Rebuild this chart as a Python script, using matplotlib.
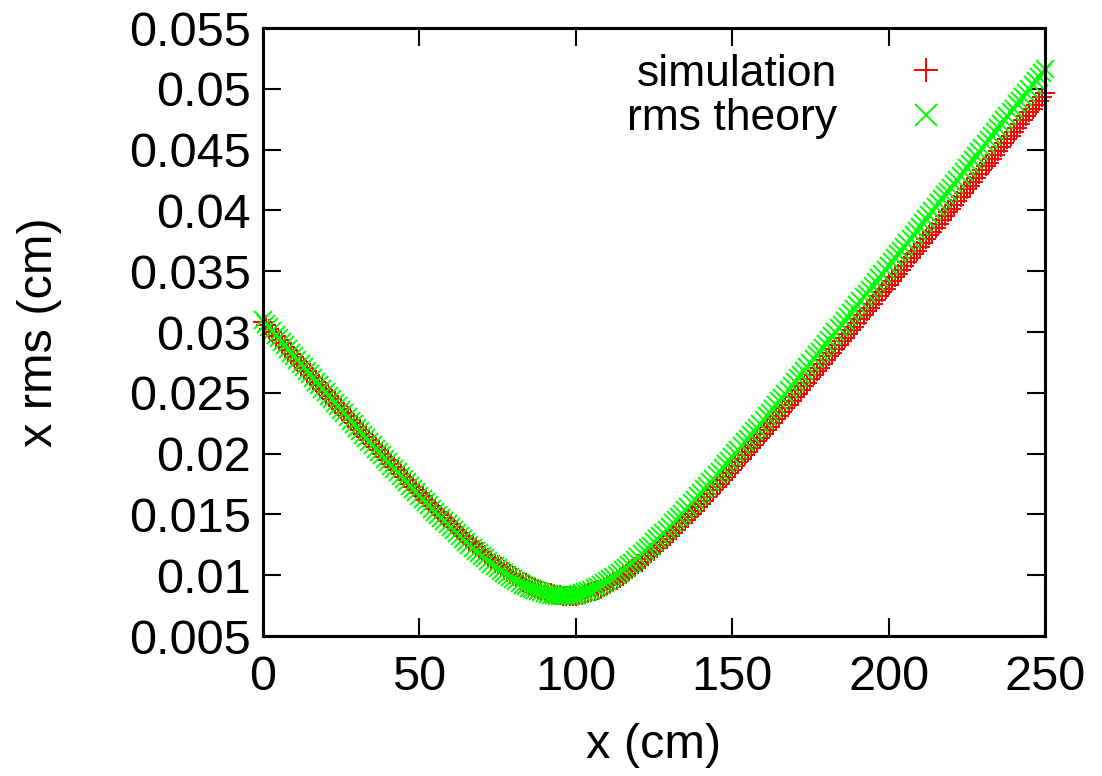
import numpy as np
import matplotlib
matplotlib.use("Agg")
import matplotlib.pyplot as plt

# DATA: beam size along the line, one sample per cm
x_cm = np.arange(0, 251)

simulation = [
    0.03083, 0.03054, 0.03025, 0.02996, 0.02967, 0.02938, 0.02909, 0.02880, 0.02850, 0.02822,
    0.02793, 0.02764, 0.02735, 0.02706, 0.02677, 0.02648, 0.02620, 0.02591, 0.02562, 0.02534,
    0.02505, 0.02476, 0.02448, 0.02419, 0.02391, 0.02363, 0.02334, 0.02306, 0.02278, 0.02249,
    0.02221, 0.02193, 0.02165, 0.02137, 0.02110, 0.02082, 0.02054, 0.02026, 0.01999, 0.01971,
    0.01944, 0.01916, 0.01889, 0.01862, 0.01835, 0.01808, 0.01781, 0.01754, 0.01727, 0.01701,
    0.01675, 0.01648, 0.01622, 0.01596, 0.01571, 0.01545, 0.01519, 0.01494, 0.01469, 0.01444,
    0.01419, 0.01395, 0.01371, 0.01347, 0.01323, 0.01300, 0.01277, 0.01254, 0.01231, 0.01209,
    0.01188, 0.01166, 0.01144, 0.01124, 0.01104, 0.01084, 0.01065, 0.01046, 0.01028, 0.01010,
    0.00993, 0.00977, 0.00961, 0.00946, 0.00932, 0.00919, 0.00906, 0.00894, 0.00884, 0.00874,
    0.00865, 0.00857, 0.00850, 0.00844, 0.00839, 0.00835, 0.00832, 0.00831, 0.00830, 0.00831,
    0.00833, 0.00836, 0.00840, 0.00846, 0.00852, 0.00860, 0.00869, 0.00879, 0.00890, 0.00902,
    0.00916, 0.00930, 0.00945, 0.00960, 0.00977, 0.00994, 0.01012, 0.01031, 0.01051, 0.01071,
    0.01091, 0.01112, 0.01134, 0.01156, 0.01179, 0.01202, 0.01226, 0.01250, 0.01274, 0.01298,
    0.01323, 0.01349, 0.01374, 0.01400, 0.01426, 0.01452, 0.01479, 0.01505, 0.01532, 0.01559,
    0.01587, 0.01614, 0.01642, 0.01670, 0.01698, 0.01726, 0.01754, 0.01783, 0.01811, 0.01840,
    0.01869, 0.01898, 0.01927, 0.01956, 0.01985, 0.02014, 0.02044, 0.02073, 0.02103, 0.02132,
    0.02162, 0.02192, 0.02222, 0.02251, 0.02281, 0.02311, 0.02342, 0.02372, 0.02402, 0.02432,
    0.02463, 0.02493, 0.02523, 0.02554, 0.02584, 0.02615, 0.02645, 0.02676, 0.02706, 0.02737,
    0.02768, 0.02799, 0.02829, 0.02860, 0.02891, 0.02922, 0.02953, 0.02984, 0.03015, 0.03045,
    0.03076, 0.03107, 0.03138, 0.03170, 0.03201, 0.03232, 0.03263, 0.03294, 0.03325, 0.03356,
    0.03388, 0.03419, 0.03450, 0.03481, 0.03513, 0.03544, 0.03575, 0.03607, 0.03638, 0.03669,
    0.03701, 0.03732, 0.03763, 0.03795, 0.03826, 0.03858, 0.03889, 0.03921, 0.03952, 0.03984,
    0.04015, 0.04047, 0.04078, 0.04110, 0.04141, 0.04173, 0.04204, 0.04236, 0.04267, 0.04299,
    0.04331, 0.04362, 0.04394, 0.04425, 0.04457, 0.04489, 0.04520, 0.04552, 0.04584, 0.04615,
    0.04647, 0.04679, 0.04710, 0.04742, 0.04774, 0.04806, 0.04837, 0.04869, 0.04901, 0.04933,
    0.04964,
]

rms_theory = [
    0.03099, 0.03069, 0.03039, 0.03009, 0.02979, 0.02949, 0.02920, 0.02890, 0.02860, 0.02830,
    0.02801, 0.02771, 0.02741, 0.02712, 0.02682, 0.02652, 0.02623, 0.02593, 0.02564, 0.02535,
    0.02505, 0.02476, 0.02447, 0.02417, 0.02388, 0.02359, 0.02330, 0.02301, 0.02272, 0.02243,
    0.02214, 0.02185, 0.02157, 0.02128, 0.02099, 0.02071, 0.02042, 0.02014, 0.01986, 0.01958,
    0.01929, 0.01901, 0.01873, 0.01846, 0.01818, 0.01790, 0.01763, 0.01735, 0.01708, 0.01681,
    0.01654, 0.01627, 0.01600, 0.01574, 0.01548, 0.01522, 0.01496, 0.01470, 0.01445, 0.01419,
    0.01394, 0.01369, 0.01345, 0.01320, 0.01296, 0.01273, 0.01250, 0.01226, 0.01203, 0.01181,
    0.01160, 0.01138, 0.01116, 0.01096, 0.01077, 0.01057, 0.01037, 0.01020, 0.01002, 0.00985,
    0.00968, 0.00952, 0.00937, 0.00923, 0.00910, 0.00898, 0.00886, 0.00876, 0.00867, 0.00858,
    0.00851, 0.00844, 0.00839, 0.00835, 0.00832, 0.00831, 0.00830, 0.00831, 0.00833, 0.00836,
    0.00841, 0.00846, 0.00853, 0.00862, 0.00871, 0.00882, 0.00894, 0.00906, 0.00920, 0.00935,
    0.00951, 0.00967, 0.00985, 0.01003, 0.01022, 0.01041, 0.01062, 0.01083, 0.01104, 0.01126,
    0.01149, 0.01172, 0.01196, 0.01220, 0.01244, 0.01269, 0.01295, 0.01320, 0.01346, 0.01372,
    0.01399, 0.01426, 0.01452, 0.01480, 0.01507, 0.01535, 0.01563, 0.01591, 0.01619, 0.01648,
    0.01676, 0.01705, 0.01734, 0.01763, 0.01793, 0.01822, 0.01852, 0.01881, 0.01911, 0.01941,
    0.01971, 0.02001, 0.02031, 0.02061, 0.02092, 0.02122, 0.02153, 0.02183, 0.02214, 0.02245,
    0.02275, 0.02306, 0.02337, 0.02368, 0.02399, 0.02430, 0.02461, 0.02492, 0.02524, 0.02555,
    0.02586, 0.02618, 0.02649, 0.02681, 0.02712, 0.02744, 0.02775, 0.02807, 0.02838, 0.02870,
    0.02902, 0.02933, 0.02965, 0.02997, 0.03029, 0.03061, 0.03093, 0.03124, 0.03156, 0.03188,
    0.03220, 0.03252, 0.03284, 0.03316, 0.03348, 0.03380, 0.03413, 0.03445, 0.03477, 0.03509,
    0.03541, 0.03573, 0.03605, 0.03638, 0.03670, 0.03702, 0.03734, 0.03767, 0.03799, 0.03831,
    0.03864, 0.03896, 0.03928, 0.03961, 0.03993, 0.04025, 0.04058, 0.04090, 0.04123, 0.04155,
    0.04187, 0.04220, 0.04252, 0.04285, 0.04317, 0.04350, 0.04382, 0.04415, 0.04447, 0.04480,
    0.04512, 0.04545, 0.04578, 0.04610, 0.04643, 0.04675, 0.04708, 0.04740, 0.04773, 0.04806,
    0.04838, 0.04871, 0.04903, 0.04936, 0.04969, 0.05001, 0.05034, 0.05067, 0.05099, 0.05132,
    0.05165,
]

x_ticks = [0, 50, 100, 150, 200, 250]
y_ticks = [0.005, 0.01, 0.015, 0.02, 0.025, 0.03, 0.035, 0.04, 0.045, 0.05, 0.055]
y_tick_labels = ["0.005", "0.01", "0.015", "0.02", "0.025", "0.03",
                 "0.035", "0.04", "0.045", "0.05", "0.055"]

# FIGURE SETUP
plt.rcParams['font.family'] = ['Liberation Sans', 'DejaVu Sans']
plt.rcParams['font.size'] = 35

fig = plt.figure(figsize=(11.02, 7.76), dpi=100)
ax = fig.add_axes([0.2387, 0.1804, 0.7096, 0.7835])

# POINTS (simulation first, theory drawn over it, not clipped at the frame)
ax.plot(x_cm, simulation, linestyle='none', marker='+', markersize=14.5,
        markeredgewidth=1.4, color='#ff0000', label='simulation', clip_on=False)
ax.plot(x_cm, rms_theory, linestyle='none', marker='x', markersize=13.5,
        markeredgewidth=1.4, color='#00ff00', label='rms theory', clip_on=False)

# AXES
ax.set_xlim(0, 250)
ax.set_ylim(0.005, 0.055)
ax.set_xticks(x_ticks)
ax.set_xticklabels([str(t) for t in x_ticks])
ax.set_yticks(y_ticks)
ax.set_yticklabels(y_tick_labels)
ax.tick_params(direction='in', length=13, width=1.5, top=True, right=True)
ax.tick_params(axis='x', pad=14)
ax.tick_params(axis='y', pad=9)
for spine in ax.spines.values():
    spine.set_linewidth(2.2)
    spine.set_zorder(3)

ax.set_xlabel('x (cm)', labelpad=16)
ax.set_ylabel('x rms (cm)', labelpad=48)

ax.legend(loc='upper right', bbox_to_anchor=(0.905, 0.958), frameon=False,
          fontsize=32, markerfirst=False, handlelength=2.0, handletextpad=1.0,
          borderpad=0, borderaxespad=0, labelspacing=0.08, markerscale=1.2)

fig.savefig('out.png', dpi=100)
